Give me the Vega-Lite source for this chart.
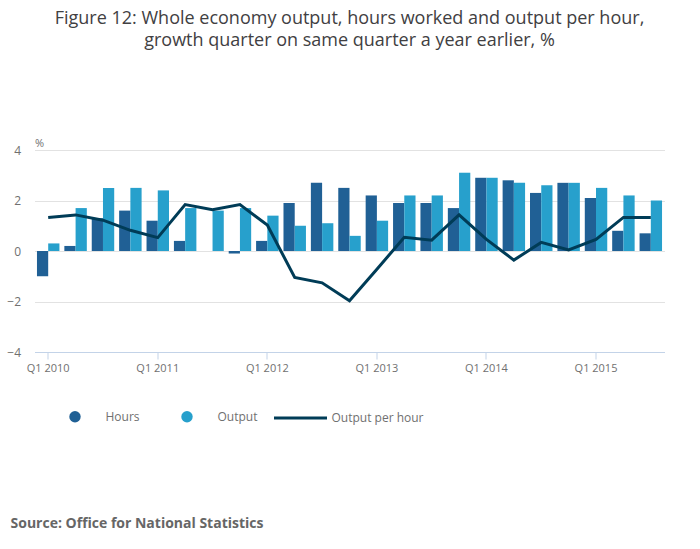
{
  "$schema": "https://vega.github.io/schema/vega-lite/v6.json",
  "width": 630,
  "height": 202,
  "autosize": {"type": "none"},
  "padding": {"left": 34.5, "top": 150, "right": 35.5, "bottom": 197},
  "background": "white",
  "title": {
    "text": [
      "Figure 12: Whole economy output, hours worked and output per hour,",
      "growth quarter on same quarter a year earlier, %"
    ],
    "anchor": "middle",
    "font": "Open Sans",
    "fontSize": 18,
    "fontWeight": "normal",
    "color": "#414042",
    "lineHeight": 22,
    "offset": 87
  },
  "data": {
    "values": [
      {"quarter": "Q1 2010", "Hours": -1.0, "Output": 0.3, "Output per hour": 1.33},
      {"quarter": "Q2 2010", "Hours": 0.2, "Output": 1.7, "Output per hour": 1.43},
      {"quarter": "Q3 2010", "Hours": 1.3, "Output": 2.5, "Output per hour": 1.22},
      {"quarter": "Q4 2010", "Hours": 1.6, "Output": 2.5, "Output per hour": 0.82},
      {"quarter": "Q1 2011", "Hours": 1.2, "Output": 2.4, "Output per hour": 0.53},
      {"quarter": "Q2 2011", "Hours": 0.4, "Output": 1.7, "Output per hour": 1.84},
      {"quarter": "Q3 2011", "Hours": 0.0, "Output": 1.6, "Output per hour": 1.63},
      {"quarter": "Q4 2011", "Hours": -0.1, "Output": 1.7, "Output per hour": 1.84},
      {"quarter": "Q1 2012", "Hours": 0.4, "Output": 1.4, "Output per hour": 1.03},
      {"quarter": "Q2 2012", "Hours": 1.9, "Output": 1.0, "Output per hour": -1.05},
      {"quarter": "Q3 2012", "Hours": 2.7, "Output": 1.1, "Output per hour": -1.26},
      {"quarter": "Q4 2012", "Hours": 2.5, "Output": 0.6, "Output per hour": -1.97},
      {"quarter": "Q1 2013", "Hours": 2.2, "Output": 1.2, "Output per hour": -0.72},
      {"quarter": "Q2 2013", "Hours": 1.9, "Output": 2.2, "Output per hour": 0.54},
      {"quarter": "Q3 2013", "Hours": 1.9, "Output": 2.2, "Output per hour": 0.43},
      {"quarter": "Q4 2013", "Hours": 1.7, "Output": 3.1, "Output per hour": 1.43},
      {"quarter": "Q1 2014", "Hours": 2.9, "Output": 2.9, "Output per hour": 0.46},
      {"quarter": "Q2 2014", "Hours": 2.8, "Output": 2.7, "Output per hour": -0.36},
      {"quarter": "Q3 2014", "Hours": 2.3, "Output": 2.6, "Output per hour": 0.34},
      {"quarter": "Q4 2014", "Hours": 2.7, "Output": 2.7, "Output per hour": 0.04},
      {"quarter": "Q1 2015", "Hours": 2.1, "Output": 2.5, "Output per hour": 0.46},
      {"quarter": "Q2 2015", "Hours": 0.8, "Output": 2.2, "Output per hour": 1.33},
      {"quarter": "Q3 2015", "Hours": 0.7, "Output": 2.0, "Output per hour": 1.33}
    ]
  },
  "encoding": {
    "x": {
      "field": "quarter",
      "type": "ordinal",
      "sort": null,
      "scale": {"paddingInner": 0.18, "paddingOuter": 0.09},
      "axis": {
        "values": ["Q1 2010", "Q1 2011", "Q1 2012", "Q1 2013", "Q1 2014", "Q1 2015"],
        "labelAngle": 0,
        "labelFontSize": 11,
        "labelColor": "#707070",
        "labelPadding": 3,
        "domainColor": "#c3d3e8",
        "tickColor": "#c3d3e8",
        "tickSize": 7,
        "grid": false,
        "title": "Source: Office for National Statistics",
        "titleFontSize": 14,
        "titleFontWeight": "bold",
        "titleColor": "#666666",
        "titleAlign": "left",
        "titleAnchor": "start",
        "titleBaseline": "alphabetic",
        "titleX": -24.5,
        "titleY": 175
      }
    }
  },
  "layer": [
    {
      "transform": [{"fold": ["Hours", "Output"], "as": ["series", "value"]}],
      "mark": {"type": "bar"},
      "encoding": {
        "xOffset": {"field": "series", "type": "nominal", "scale": {"paddingInner": 0, "paddingOuter": 0}},
        "y": {
          "field": "value",
          "type": "quantitative",
          "scale": {"domain": [-4, 4], "nice": false},
          "axis": {
            "values": [-4, -2, 0, 2, 4],
            "domain": false,
            "ticks": false,
            "grid": true,
            "gridColor": "#e2e2e2",
            "labelFontSize": 12,
            "labelColor": "#707070",
            "labelPadding": 14,
            "title": "%",
            "titleAngle": 0,
            "titleAlign": "left",
            "titleBaseline": "alphabetic",
            "titleX": 0,
            "titleY": -4,
            "titleFontSize": 11,
            "titleFontWeight": "normal",
            "titleColor": "#707070"
          }
        },
        "color": {
          "field": "series",
          "type": "nominal",
          "scale": {"domain": ["Hours", "Output"], "range": ["#206095", "#27a0cc"]},
          "legend": {
            "title": null,
            "orient": "none",
            "direction": "horizontal",
            "legendX": 34,
            "legendY": 260,
            "padding": 0,
            "symbolType": "circle",
            "symbolSize": 130,
            "labelOffset": 24,
            "columnPadding": 40,
            "labelFontSize": 12,
            "labelColor": "#707070"
          }
        }
      }
    },
    {
      "transform": [{"fold": ["Output per hour"], "as": ["series", "value"]}],
      "mark": {"type": "line", "strokeWidth": 3},
      "encoding": {
        "y": {"field": "value", "type": "quantitative"},
        "stroke": {
          "field": "series",
          "type": "nominal",
          "scale": {"domain": ["Output per hour"], "range": ["#003c57"]},
          "legend": {
            "title": null,
            "orient": "none",
            "legendX": 238,
            "legendY": 240,
            "padding": 0,
            "symbolType": "stroke",
            "symbolSize": 2809,
            "symbolStrokeWidth": 3,
            "labelOffset": 3,
            "labelFontSize": 12,
            "labelColor": "#707070"
          }
        }
      }
    }
  ],
  "config": {
    "font": "Open Sans",
    "view": {"stroke": null}
  }
}
